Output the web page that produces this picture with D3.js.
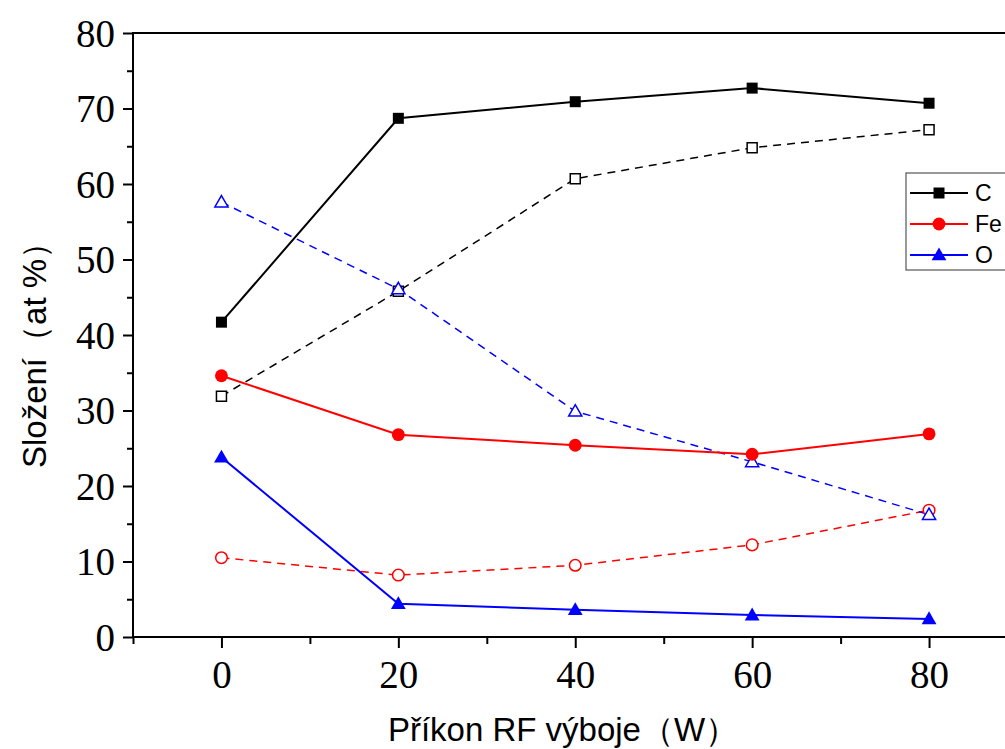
<!DOCTYPE html>
<html>
<head>
<meta charset="utf-8">
<script src="https://cdn.jsdelivr.net/npm/d3@7/dist/d3.min.js"></script>
<style>
  html, body { margin: 0; padding: 0; background: #fff; }
  svg { display: block; }
</style>
</head>
<body>
<svg id="chart" width="1005" height="749"></svg>
<script>
// Discharge power (W)
const power = [0, 20, 40, 60, 80];

// Composition (at %) — filled markers / solid lines
const cSolid  = [41.7, 68.7, 70.9, 72.7, 70.7];
const feSolid = [34.6, 26.8, 25.4, 24.2, 26.9];
const oSolid  = [23.8, 4.4, 3.6, 2.9, 2.4];

// Composition (at %) — open markers / dashed lines
const cDashed  = [31.9, 45.8, 60.7, 64.8, 67.2];
const feDashed = [10.5, 8.2, 9.5, 12.2, 16.8];
const oDashed  = [57.6, 46.1, 29.9, 23.2, 16.2];

const xTicks = [0, 20, 40, 60, 80];
const yTicks = [0, 10, 20, 30, 40, 50, 60, 70, 80];

const legendNames = ["C", "Fe", "O"];

const svg = d3.select("#chart");
const m = { left: 133, top: 33, right: 1017.5, bottom: 637 };

const x = d3.scaleLinear().domain([-10, 90]).range([m.left, m.right]);
const y = d3.scaleLinear().domain([0, 80]).range([m.bottom, m.top]);

const serif = "'Liberation Serif', 'Times New Roman', serif";
const sans = "'Liberation Sans', Arial, sans-serif";

// frame
svg.append("rect")
  .attr("x", m.left).attr("y", m.top)
  .attr("width", m.right - m.left).attr("height", m.bottom - m.top)
  .attr("fill", "none").attr("stroke", "#000").attr("stroke-width", 2);

// y axis
const yAxis = svg.append("g").attr("transform", `translate(${m.left},0)`)
  .call(d3.axisLeft(y).tickValues(yTicks).tickSize(10).tickPadding(8));
yAxis.select(".domain").remove();
yAxis.selectAll(".tick line").attr("stroke-width", 2);
yAxis.selectAll(".tick text")
  .attr("font-family", serif)
  .attr("font-size", 39).attr("fill", "#000").attr("dy", "0.34em");
const yMinor = svg.append("g").attr("transform", `translate(${m.left},0)`)
  .call(d3.axisLeft(y).tickValues(d3.range(5, 80, 10)).tickSize(6).tickFormat(""));
yMinor.select(".domain").remove();
yMinor.selectAll(".tick line").attr("stroke-width", 2);

// x axis
const xAxis = svg.append("g").attr("transform", `translate(0,${m.bottom})`)
  .call(d3.axisBottom(x).tickValues(xTicks).tickSize(11).tickPadding(12));
xAxis.select(".domain").remove();
xAxis.selectAll(".tick line").attr("stroke-width", 2);
xAxis.selectAll(".tick text")
  .attr("font-family", serif)
  .attr("font-size", 39).attr("fill", "#000");
const xMinor = svg.append("g").attr("transform", `translate(0,${m.bottom})`)
  .call(d3.axisBottom(x).tickValues([-10, 10, 30, 50, 70, 90]).tickSize(7).tickFormat(""));
xMinor.select(".domain").remove();
xMinor.selectAll(".tick line").attr("stroke-width", 2);

// axis titles
svg.append("text")
  .attr("transform", `translate(46,347) rotate(-90)`)
  .attr("text-anchor", "middle")
  .attr("font-family", sans)
  .attr("font-size", 33).attr("fill", "#000")
  .text("Složení（at %）");
svg.append("text")
  .attr("x", 563).attr("y", 741)
  .attr("text-anchor", "middle")
  .attr("font-family", sans)
  .attr("font-size", 33).attr("fill", "#000")
  .text("Příkon RF výboje（W）");

const series = [
  { vals: cDashed,  color: "#000", shape: d3.symbolSquare,   filled: false, dashed: true },
  { vals: feDashed, color: "#ff0000", shape: d3.symbolCircle, filled: false, dashed: true },
  { vals: oDashed,  color: "#0000ff", shape: d3.symbolTriangle, filled: false, dashed: true },
  { vals: cSolid,   color: "#000", shape: d3.symbolSquare,   filled: true,  dashed: false },
  { vals: feSolid,  color: "#ff0000", shape: d3.symbolCircle, filled: true,  dashed: false },
  { vals: oSolid,   color: "#0000ff", shape: d3.symbolTriangle, filled: true,  dashed: false }
];

function symbolSize(shape, filled) {
  if (shape === d3.symbolSquare) return filled ? 121 : 100;
  if (shape === d3.symbolCircle) return filled ? 130 : 105;
  return filled ? 95 : 75;
}

const plot = svg.append("g");

series.forEach(s => {
  const pts = power.map((p, i) => [x(p), y(s.vals[i])]);
  const line = d3.line().curve(d3.curveLinear);
  plot.append("path")
    .attr("d", line(pts))
    .attr("fill", "none")
    .attr("stroke", s.color)
    .attr("stroke-width", s.dashed ? 1.5 : 2)
    .attr("stroke-dasharray", s.dashed ? "8,6" : null);
});

series.forEach(s => {
  const sym = d3.symbol().type(s.shape).size(symbolSize(s.shape, s.filled));
  plot.selectAll(null)
    .data(power.map((p, i) => [x(p), y(s.vals[i])]))
    .enter().append("path")
    .attr("transform", d => `translate(${d[0]},${d[1] + (s.shape === d3.symbolTriangle ? 1 : 0)})`)
    .attr("d", sym())
    .attr("fill", s.filled ? s.color : "#fff")
    .attr("stroke", s.color)
    .attr("stroke-width", s.filled ? 0 : 1.5);
});

// legend
const legend = svg.append("g");
legend.append("rect")
  .attr("x", 906).attr("y", 173).attr("width", 120).attr("height", 97)
  .attr("fill", "#fff").attr("stroke", "#555").attr("stroke-width", 1.2);
const legendColors = ["#000", "#ff0000", "#0000ff"];
const legendShapes = [d3.symbolSquare, d3.symbolCircle, d3.symbolTriangle];
legendNames.forEach((name, i) => {
  const ly = 193 + i * 31;
  legend.append("line")
    .attr("x1", 910).attr("x2", 968).attr("y1", ly).attr("y2", ly)
    .attr("stroke", legendColors[i]).attr("stroke-width", 2);
  legend.append("path")
    .attr("transform", `translate(939,${ly + (i === 2 ? 1 : 0)})`)
    .attr("d", d3.symbol().type(legendShapes[i]).size(symbolSize(legendShapes[i], true))())
    .attr("fill", legendColors[i]);
  legend.append("text")
    .attr("x", 975).attr("y", ly + 8)
    .attr("font-family", sans)
    .attr("font-size", 23).attr("fill", "#000")
    .text(name);
});
</script>
</body>
</html>
